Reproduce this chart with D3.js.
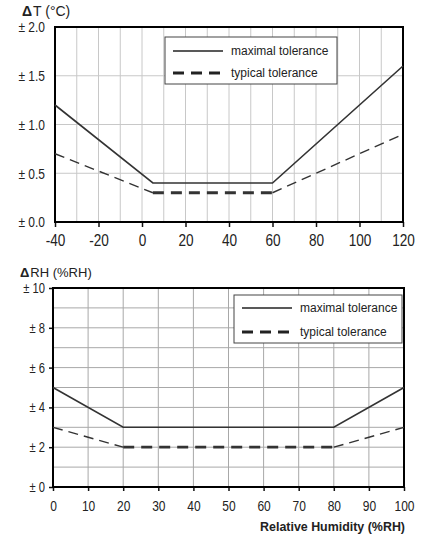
<!DOCTYPE html>
<html>
<head>
<meta charset="utf-8">
<script src="https://cdn.jsdelivr.net/npm/d3@7"></script>
<style>
  body { margin: 0; background: #fff; }
  svg text { fill: #222; }
</style>
</head>
<body>
<div id="chart"></div>
<script>
// data
const tempX = [-40, 5, 60, 120];
const tempMax = [1.2, 0.4, 0.4, 1.6];
const tempTyp = [0.7, 0.3, 0.3, 0.9];
const tempYTicks = [0, 0.5, 1.0, 1.5, 2.0];
const tempXTicks = [-40, -20, 0, 20, 40, 60, 80, 100, 120];

const rhX = [0, 20, 80, 100];
const rhMax = [5, 3, 3, 5];
const rhTyp = [3, 2, 2, 3];
const rhYTicks = [0, 2, 4, 6, 8, 10];
const rhXTicks = [0, 10, 20, 30, 40, 50, 60, 70, 80, 90, 100];

const legendLabels = ["maximal tolerance", "typical tolerance"];

const sans = "'Liberation Sans', Arial, sans-serif";

const svg = d3.select("#chart").append("svg")
  .attr("width", 431)
  .attr("height", 537);

// squeeze text horizontally so it looks like a narrow face
function squeeze(sel, k) {
  sel.each(function() {
    const w = this.getComputedTextLength();
    d3.select(this).attr("textLength", w * k).attr("lengthAdjust", "spacingAndGlyphs");
  });
}

function drawPanel(opt) {
  const x = d3.scaleLinear().domain(opt.xDomain).range([opt.left, opt.right]);
  const y = d3.scaleLinear().domain(opt.yDomain).range([opt.bottom, opt.top]);
  const g = svg.append("g");

  // grid
  g.selectAll(".vg").data(d3.range(opt.xDomain[0], opt.xDomain[1] + 0.001, opt.xGrid))
    .join("line")
    .attr("x1", d => x(d)).attr("x2", d => x(d))
    .attr("y1", opt.top).attr("y2", opt.bottom)
    .attr("stroke", opt.gridColor).attr("stroke-width", 1);
  g.selectAll(".hg").data(d3.range(opt.yDomain[0], opt.yDomain[1] + 0.001, opt.yGrid))
    .join("line")
    .attr("x1", opt.left).attr("x2", opt.right)
    .attr("y1", d => y(d)).attr("y2", d => y(d))
    .attr("stroke", opt.gridColor).attr("stroke-width", 1);

  // axes
  const xAxis = d3.axisBottom(x).tickValues(opt.xTicks).tickSize(opt.xTickLen).tickPadding(opt.xPad)
    .tickFormat(d => d < 0 ? "-" + Math.abs(d) : d);
  g.append("g").attr("transform", `translate(0,${opt.bottom})`).call(xAxis)
    .call(a => a.select(".domain").remove())
    .call(a => a.selectAll("line").attr("stroke", "#111").attr("stroke-width", 1.5))
    .call(a => a.selectAll("text").attr("font-family", sans).attr("font-size", opt.xFont).attr("fill", "#222")
      .call(squeeze, 0.8));

  const yAxis = d3.axisLeft(y).tickValues(opt.yTicks).tickSize(opt.yTickLen).tickPadding(opt.yPad)
    .tickFormat(opt.yFormat);
  g.append("g").attr("transform", `translate(${opt.left},0)`).call(yAxis)
    .call(a => a.select(".domain").remove())
    .call(a => a.selectAll("line").attr("stroke", "#111").attr("stroke-width", 1.5))
    .call(a => a.selectAll("text").attr("font-family", sans).attr("font-size", opt.yFont).attr("fill", "#222")
      .call(squeeze, 0.8));

  // frame
  g.append("rect")
    .attr("x", opt.left).attr("y", opt.top)
    .attr("width", opt.right - opt.left).attr("height", opt.bottom - opt.top)
    .attr("fill", "none").attr("stroke", "#000").attr("stroke-width", 2);

  // series
  const line = d3.line().x(d => x(d[0])).y(d => y(d[1]));
  const maxPts = opt.xs.map((v, i) => [v, opt.max[i]]);
  const typPts = opt.xs.map((v, i) => [v, opt.typ[i]]);

  g.append("path").attr("d", line(maxPts))
    .attr("fill", "none").attr("stroke", "#333").attr("stroke-width", 1.6);

  // sloped parts of typical curve: thin dashes
  [[typPts[0], typPts[1]], [typPts[2], typPts[3]]].forEach(seg => {
    g.append("path").attr("d", line(seg))
      .attr("fill", "none").attr("stroke", "#333").attr("stroke-width", 1.4)
      .attr("stroke-dasharray", "10,6");
  });
  // flat part: heavy dashes
  g.append("path").attr("d", line([typPts[1], typPts[2]]))
    .attr("fill", "none").attr("stroke", "#333").attr("stroke-width", 2.8)
    .attr("stroke-dasharray", "11,7");

  // legend
  const L = opt.legend;
  g.append("rect")
    .attr("x", L.x).attr("y", L.y).attr("width", L.w).attr("height", L.h)
    .attr("fill", "#fff").attr("stroke", "#444").attr("stroke-width", 1);
  legendLabels.forEach((lab, i) => {
    const yy = L.y + L.rows[i];
    g.append("line")
      .attr("x1", L.x + 8).attr("x2", L.x + 8 + L.lineW)
      .attr("y1", yy).attr("y2", yy)
      .attr("stroke", "#222")
      .attr("stroke-width", i === 0 ? 1.4 : 2.8)
      .attr("stroke-dasharray", i === 0 ? null : "11,7");
    g.append("text")
      .attr("x", L.x + 8 + L.lineW + 8).attr("y", yy)
      .attr("dy", "0.35em")
      .attr("font-family", sans).attr("font-size", 12.5)
      .text(lab)
      .call(squeeze, 0.96);
  });

  // y title: bold delta, then the rest right after it
  const delta = g.append("text")
    .attr("x", opt.titleX).attr("y", opt.titleY)
    .attr("font-family", sans).attr("font-size", opt.titleFont).attr("font-weight", "bold")
    .text("\u0394");
  const dw = delta.node().getComputedTextLength();
  g.append("text")
    .attr("x", opt.titleX + dw + 1).attr("y", opt.titleY)
    .attr("font-family", sans).attr("font-size", opt.titleFont)
    .text(opt.title);
}

drawPanel({
  left: 55, right: 403, top: 27, bottom: 222,
  xDomain: [-40, 120], yDomain: [0, 2],
  xGrid: 10, yGrid: 0.5,
  xTicks: tempXTicks, yTicks: tempYTicks,
  xTickLen: 5, xPad: 7, yTickLen: 0, yPad: 10,
  xFont: 17, yFont: 15,
  yFormat: d => "\u00b1 " + d3.format(".1f")(d),
  gridColor: "#c8c8c8",
  xs: tempX, max: tempMax, typ: tempTyp,
  legend: { x: 165, y: 37, w: 172, h: 47, rows: [14, 36], lineW: 50 },
  title: "T (\u00b0C)",
  titleX: 22, titleY: 16, titleFont: 14
});

drawPanel({
  left: 53, right: 404, top: 288, bottom: 487,
  xDomain: [0, 100], yDomain: [0, 10],
  xGrid: 10, yGrid: 1,
  xTicks: rhXTicks, yTicks: rhYTicks,
  xTickLen: 4, xPad: 9, yTickLen: 4, yPad: 4,
  xFont: 15, yFont: 14,
  yFormat: d => "\u00b1 " + d,
  gridColor: "#a8a8a8",
  xs: rhX, max: rhMax, typ: rhTyp,
  legend: { x: 234, y: 295, w: 168, h: 48, rows: [13, 37], lineW: 50 },
  title: "RH (%RH)",
  titleX: 20, titleY: 277, titleFont: 13
});

svg.append("text")
  .attr("x", 405).attr("y", 531)
  .attr("text-anchor", "end")
  .attr("font-family", sans).attr("font-size", 13.5).attr("font-weight", "bold")
  .text("Relative Humidity (%RH)")
  .call(squeeze, 0.92);
</script>
</body>
</html>
